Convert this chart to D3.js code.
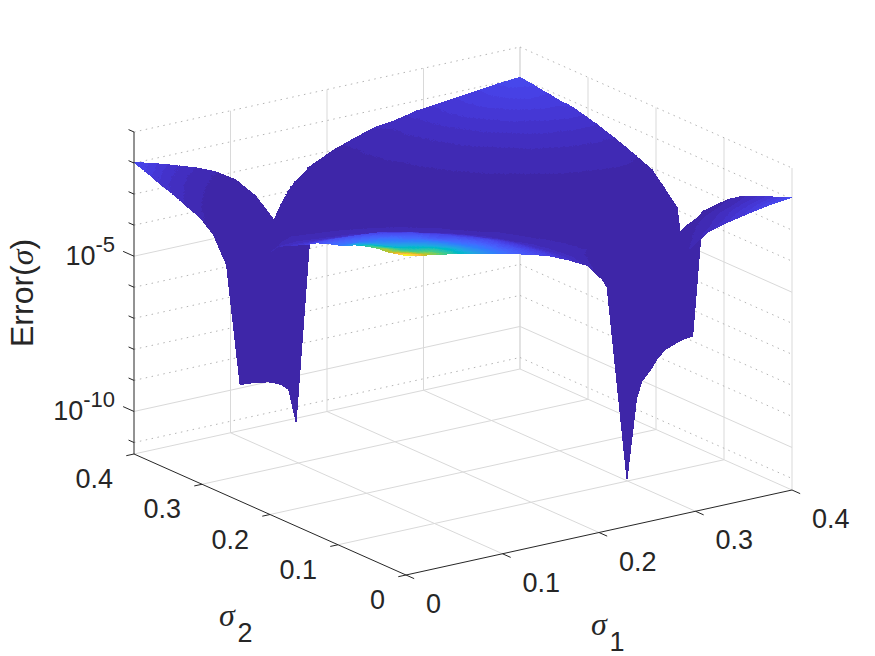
<!DOCTYPE html>
<html>
<head>
<meta charset="utf-8">
<script src="https://cdn.jsdelivr.net/npm/d3@7"></script>
<style>
  body { margin: 0; background: #fff; }
  text { font-family: "Liberation Sans", Arial, sans-serif; fill: #262626; }
</style>
</head>
<body>
<svg id="chart" width="875" height="656"></svg>
<script>
// Grid of the surface. The nodes follow the two canyons.
const sigma1 = [0, .021, .042, .063, .084, .105, .126, .147, .168, .188, .208, .229, .25, .271, .293, .314, .335, .357, .378, .4];
const sigma2 = [0, .019, .038, .056, .075, .094, .113, .131, .146, .169, .188, .206, .225, .244, .264, .283, .303, .322, .342, .361, .381, .4];

// log10(Error), one row per sigma2, one column per sigma1
const logError = [
  [-1.08,-1.21,-1.32,-1.45,-1.6,-1.74,-1.9,-2.09,-2.37,-2.69,-3.41,-9.86,-4.5,-3.4,-2.89,-2.45,-2.28,-2.14,-2.02,-1.95],
  [-1.19,-1.3,-1.36,-1.47,-1.62,-1.76,-1.91,-2.11,-2.37,-2.62,-3.0,-4.24,-7.84,-3.89,-3.25,-2.8,-2.5,-2.3,-2.2,-2.13],
  [-1.24,-1.38,-1.45,-1.55,-1.68,-1.8,-1.96,-2.16,-2.42,-2.64,-2.8,-3.3,-4.57,-7.36,-3.64,-3.1,-2.75,-2.5,-2.38,-2.29],
  [-1.33,-1.47,-1.55,-1.63,-1.75,-1.86,-2.0,-2.22,-2.47,-2.67,-2.82,-2.95,-3.5,-4.58,-7.31,-3.52,-3.0,-2.75,-2.6,-2.47],
  [-1.47,-1.57,-1.65,-1.73,-1.85,-1.95,-2.1,-2.31,-2.55,-2.72,-2.85,-2.97,-3.13,-3.55,-4.59,-7.25,-3.43,-3.05,-2.85,-2.65],
  [-1.68,-1.7,-1.74,-1.82,-1.92,-2.05,-2.22,-2.44,-2.64,-2.79,-2.9,-3.02,-3.18,-3.32,-3.6,-4.6,-7.32,-3.48,-3.15,-2.93],
  [-1.8,-1.82,-1.86,-1.93,-2.03,-2.19,-2.37,-2.55,-2.72,-2.84,-2.97,-3.08,-3.24,-3.36,-3.45,-3.55,-4.45,-7.49,-3.68,-3.31],
  [-1.95,-1.96,-2.0,-2.06,-2.2,-2.35,-2.52,-2.67,-2.81,-2.9,-3.02,-3.15,-3.3,-3.4,-3.45,-3.5,-3.5,-4.29,-7.66,-3.68],
  [-2.15,-2.15,-2.2,-2.28,-2.42,-2.53,-2.67,-2.79,-2.88,-2.98,-3.1,-3.24,-3.35,-3.42,-3.45,-3.4,-3.35,-3.45,-4.14,-7.83],
  [-2.4,-2.42,-2.46,-2.5,-2.6,-2.69,-2.8,-2.87,-2.97,-3.07,-3.2,-3.32,-3.45,-3.4,-3.33,-3.27,-3.2,-3.2,-3.4,-3.92],
  [-2.62,-2.6,-2.65,-2.7,-2.76,-2.82,-2.88,-2.97,-3.07,-3.18,-3.3,-3.45,-3.35,-3.3,-3.2,-3.13,-3.07,-3.05,-3.05,-3.47],
  [-3.1,-2.75,-2.8,-2.83,-2.87,-2.92,-2.98,-3.07,-3.18,-3.3,-3.36,-3.35,-3.27,-3.18,-3.07,-3.0,-2.98,-2.95,-2.93,-3.06],
  [-4.3,-3.1,-2.92,-2.95,-2.98,-3.04,-3.12,-3.22,-3.3,-3.36,-3.38,-3.27,-3.15,-3.05,-2.98,-2.92,-2.88,-2.85,-2.83,-2.89],
  [-7.62,-3.35,-3.1,-3.07,-3.12,-3.18,-3.25,-3.32,-3.42,-3.38,-3.28,-3.17,-3.05,-2.97,-2.9,-2.84,-2.78,-2.73,-2.7,-2.72],
  [-3.95,-7.92,-3.27,-3.2,-3.25,-3.3,-3.38,-3.4,-3.4,-3.3,-3.18,-3.07,-2.97,-2.88,-2.82,-2.73,-2.64,-2.58,-2.55,-2.56],
  [-3.17,-3.9,-8.22,-3.11,-3.15,-3.22,-3.32,-3.35,-3.3,-3.2,-3.08,-2.98,-2.9,-2.82,-2.72,-2.6,-2.5,-2.46,-2.42,-2.42],
  [-2.8,-3.3,-4.0,-8.56,-2.97,-3.05,-3.12,-3.25,-3.2,-3.15,-3.05,-2.95,-2.85,-2.74,-2.6,-2.49,-2.4,-2.33,-2.3,-2.3],
  [-2.64,-3.0,-3.45,-4.1,-8.86,-2.88,-2.95,-3.05,-3.1,-3.05,-2.98,-2.9,-2.78,-2.65,-2.5,-2.4,-2.31,-2.26,-2.22,-2.19],
  [-2.44,-2.75,-3.1,-3.55,-4.2,-9.23,-2.9,-2.95,-3.0,-3.02,-2.95,-2.86,-2.74,-2.58,-2.44,-2.33,-2.25,-2.19,-2.15,-2.16],
  [-2.31,-2.55,-2.85,-3.2,-3.7,-4.3,-9.63,-3.0,-3.05,-3.05,-2.93,-2.84,-2.68,-2.53,-2.39,-2.28,-2.2,-2.14,-2.09,-2.1],
  [-2.12,-2.35,-2.6,-2.9,-3.3,-3.8,-4.6,-10.12,-3.11,-3.1,-2.95,-2.82,-2.66,-2.5,-2.36,-2.25,-2.18,-2.11,-2.05,-2.03],
  [-1.98,-2.16,-2.37,-2.58,-2.85,-3.25,-3.92,-4.92,-11.5,-3.27,-2.99,-2.76,-2.56,-2.48,-2.33,-2.26,-2.18,-2.11,-2.03,-1.98]
];

const sigmaTicks = [0, .1, .2, .3, .4];
const sigmaTickLabels = ["0", "0.1", "0.2", "0.3", "0.4"];
const zTicks = [-1, -2, -3, -4, -5, -6, -7, -8, -9, -10, -11];
const zMajor = [-5, -10];
const zRange = [-11.37, -1];

// parula, 64 levels
const parula = [[.2422,.1504,.6603],[.2504,.165,.7076],[.2578,.1818,.7511],[.2647,.1978,.7952],[.2706,.2147,.8364],[.2751,.2342,.871],[.2783,.2559,.8991],[.2803,.2782,.9221],[.2813,.3006,.9414],[.281,.3228,.9579],[.2795,.3447,.9717],[.276,.3667,.9829],[.2699,.3892,.9906],[.2602,.4123,.9952],[.244,.4358,.9988],[.2206,.4603,.9973],[.1963,.4847,.9892],[.1834,.5074,.9798],[.1786,.5289,.9682],[.1764,.5499,.952],[.1687,.5703,.9359],[.154,.5902,.9218],[.146,.6091,.9079],[.138,.6276,.8973],[.1248,.6459,.8883],[.1113,.6635,.8763],[.0952,.6798,.8598],[.0689,.6948,.8394],[.0297,.7082,.8163],[.0036,.7203,.7917],[.0067,.7312,.766],[.0433,.7411,.7394],[.0964,.75,.712],[.1408,.7584,.6842],[.1717,.767,.6554],[.1938,.7758,.6251],[.2161,.7843,.5923],[.247,.7918,.5567],[.2906,.7973,.5188],[.3406,.8008,.4789],[.3909,.8029,.4354],[.4456,.8024,.3909],[.5044,.7993,.348],[.5616,.7942,.3045],[.6174,.7876,.2612],[.672,.7793,.2227],[.7242,.7698,.191],[.7738,.7598,.1646],[.8203,.7498,.1535],[.8634,.7406,.1596],[.9035,.733,.1774],[.9393,.7288,.21],[.9728,.7298,.2394],[.9956,.7434,.2371],[.997,.7659,.2199],[.9952,.7893,.2028],[.9892,.8136,.1885],[.9786,.8386,.1766],[.9676,.8639,.1643],[.961,.889,.1537],[.9597,.9135,.1423],[.9628,.9373,.1265],[.9691,.9606,.1064],[.9769,.9839,.0805]];

const svg = d3.select("#chart");

// isometric view of the box: one scale per screen direction
const origin = [406, 575];
const s1X = d3.scaleLinear().domain([0, .4]).range([0, 386]);
const s1Y = d3.scaleLinear().domain([0, .4]).range([0, -85]);
const s2X = d3.scaleLinear().domain([0, .4]).range([0, -272]);
const s2Y = d3.scaleLinear().domain([0, .4]).range([0, -121]);
const zY = d3.scaleLinear().domain(zRange).range([0, -322]);

const px = (s1, s2) => origin[0] + s1X(s1) + s2X(s2);
const py = (s1, s2, z) => origin[1] + s1Y(s1) + s2Y(s2) + zY(z);

// colour is linear in the error, not in its log
const errMax = Math.pow(10, d3.max(logError.flat()));
const colorScale = d3.scaleQuantize().domain([0, errMax])
  .range(parula.map(c => d3.rgb(c[0] * 255, c[1] * 255, c[2] * 255).formatHex()));
const colorOf = z => colorScale(Math.pow(10, z));

// depth along the viewing direction, farther first
const depth = p => 3.04 * (-s1Y(p[0]) - s2Y(p[1])) - 10.2 * p[2];

const lineAt = (a, b, c, d) => ({ x1: px(a, b), y1: py(a, b, c), x2: px(a, b), y2: py(a, b, d) });
const seg = (a1, b1, z1, a2, b2, z2) => ({ x1: px(a1, b1), y1: py(a1, b1, z1), x2: px(a2, b2), y2: py(a2, b2, z2) });

const solidGrey = "#d9d9d9";
const dottedGrey = "#b4b4b4";
const grid = svg.append("g");

function drawLines(parent, data, color, dash, width) {
  parent.append("g").selectAll("line").data(data).enter().append("line")
    .attr("x1", d => d.x1).attr("y1", d => d.y1)
    .attr("x2", d => d.x2).attr("y2", d => d.y2)
    .attr("stroke", color)
    .attr("stroke-width", width || 1)
    .attr("stroke-dasharray", dash);
}

// floor grid and the vertical lines on the two back walls
let floorLines = [], wallVerticals = [];
sigmaTicks.slice(1).forEach(t => {
  floorLines.push(seg(t, 0, zRange[0], t, .4, zRange[0]));
  floorLines.push(seg(0, t, zRange[0], .4, t, zRange[0]));
  wallVerticals.push(lineAt(t, .4, zRange[0], zRange[1]));
  wallVerticals.push(lineAt(.4, t, zRange[0], zRange[1]));
});
drawLines(grid, floorLines, solidGrey);
drawLines(grid, wallVerticals, solidGrey);
drawLines(grid, [lineAt(.4, 0, zRange[0], zRange[1])], solidGrey);

// horizontal lines on the back walls, the minor decades are dotted
const wallLines = z => [seg(0, .4, z, .4, .4, z), seg(.4, .4, z, .4, 0, z)];
drawLines(grid, zMajor.flatMap(wallLines), solidGrey);
drawLines(grid, zTicks.filter(z => !zMajor.includes(z)).flatMap(wallLines), dottedGrey, "1.5 4.5");

// surface: cut each cell along the canyon diagonal, split where the colour changes
let triangles = [];
function addTriangle(p, q, r, level) {
  const cp = colorOf(p[2]), cq = colorOf(q[2]), cr = colorOf(r[2]);
  if (level == 0 || (cp == cq && cq == cr)) {
    triangles.push({ pts: [p, q, r], z: (p[2] + q[2] + r[2]) / 3 });
    return;
  }
  const mid = (u, v) => [(u[0] + v[0]) / 2, (u[1] + v[1]) / 2, (u[2] + v[2]) / 2];
  const pq = mid(p, q), qr = mid(q, r), rp = mid(r, p);
  addTriangle(p, pq, rp, level - 1);
  addTriangle(pq, q, qr, level - 1);
  addTriangle(rp, qr, r, level - 1);
  addTriangle(pq, qr, rp, level - 1);
}
for (let j = 0; j < sigma2.length - 1; j++) {
  for (let i = 0; i < sigma1.length - 1; i++) {
    const a = [sigma1[i], sigma2[j], logError[j][i]];
    const b = [sigma1[i + 1], sigma2[j], logError[j][i + 1]];
    const c = [sigma1[i + 1], sigma2[j + 1], logError[j + 1][i + 1]];
    const d = [sigma1[i], sigma2[j + 1], logError[j + 1][i]];
    addTriangle(a, b, c, 3);
    addTriangle(a, c, d, 3);
  }
}
const centre = t => [d3.mean(t.pts, p => p[0]), d3.mean(t.pts, p => p[1]), t.z];
triangles.sort((t, u) => d3.descending(depth(centre(t)), depth(centre(u))));

svg.append("g").selectAll("polygon").data(triangles).enter().append("polygon")
  .attr("points", t => t.pts.map(p => px(p[0], p[1]) + "," + py(p[0], p[1], p[2])).join(" "))
  .attr("fill", t => colorOf(t.z))
  .attr("stroke", t => colorOf(t.z))
  .attr("stroke-width", 1)
  .attr("shape-rendering", "crispEdges");

// axes
const axes = svg.append("g");
const axisColor = "#262626";
drawLines(axes, [
  seg(0, 0, zRange[0], .4, 0, zRange[0]),
  seg(0, 0, zRange[0], 0, .4, zRange[0]),
  lineAt(0, .4, zRange[0], zRange[1])
], axisColor);

// short ticks run along the floor, away from the box
const s1Ticks = sigmaTicks.map(t => seg(t, 0, zRange[0], t, -.012, zRange[0]));
const s2Ticks = sigmaTicks.map(t => seg(0, t, zRange[0], -.008, t, zRange[0]));
const zTickLines = zTicks.map(z => seg(0, .4, z, 0, zMajor.includes(z) ? .416 : .408, z));
drawLines(axes, s1Ticks.concat(s2Ticks, zTickLines), axisColor);

const tickSize = 27;
svg.append("g").selectAll("text").data(sigmaTicks).enter().append("text")
  .attr("x", t => px(t, 0) + 20)
  .attr("y", t => py(t, 0, zRange[0]) + 38)
  .attr("font-size", tickSize)
  .text((t, i) => sigmaTickLabels[i]);
svg.append("g").selectAll("text").data(sigmaTicks).enter().append("text")
  .attr("x", t => px(0, t) - 21)
  .attr("y", t => py(0, t, zRange[0]) + 34)
  .attr("text-anchor", "end")
  .attr("font-size", tickSize)
  .text((t, i) => sigmaTickLabels[i]);

// decade labels on the z axis
const zLabels = svg.append("g").selectAll("text").data(zMajor).enter().append("text")
  .attr("x", 115)
  .attr("y", z => py(0, .4, z) + 9)
  .attr("text-anchor", "end")
  .attr("font-size", tickSize);
zLabels.append("tspan").text("10");
zLabels.append("tspan").attr("dy", -13).attr("font-size", 22).text(z => z);

const zTitle = svg.append("text")
  .attr("transform", "translate(33,347) rotate(-90)")
  .attr("font-size", 32);
zTitle.append("tspan").text("Error(");
zTitle.append("tspan").style("font-family", "'Liberation Serif', serif").style("font-style", "italic").text("σ");
zTitle.append("tspan").text(")");

function sigmaLabel(x, y, sub) {
  const g = svg.append("g");
  g.append("text").attr("x", x).attr("y", y)
    .attr("text-anchor", "middle")
    .style("font-family", "'Liberation Serif', serif")
    .style("font-style", "italic")
    .attr("font-size", 32)
    .text("σ");
  g.append("text").attr("x", x + 18).attr("y", y + 16)
    .attr("text-anchor", "middle")
    .attr("font-size", 27)
    .text(sub);
}
sigmaLabel(227, 626, "2");
sigmaLabel(599, 635, "1");
</script>
</body>
</html>
